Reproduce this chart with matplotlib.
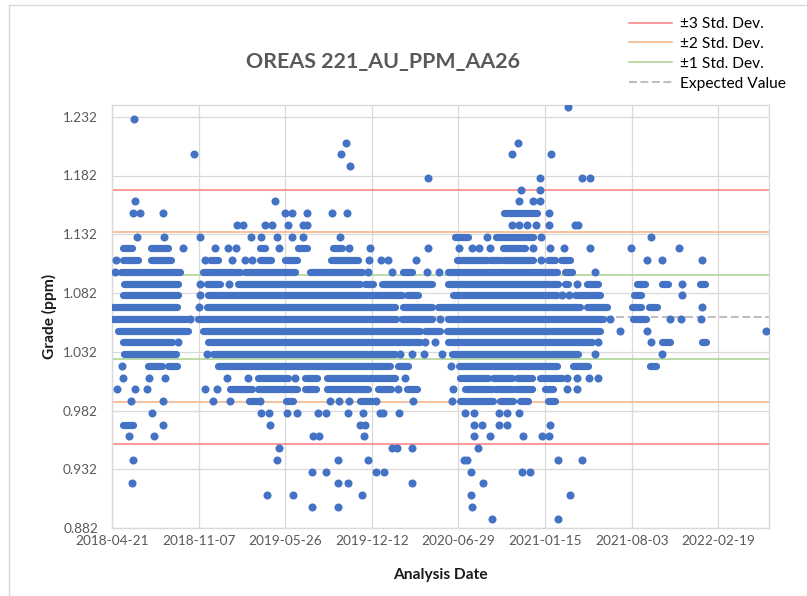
import matplotlib
matplotlib.use("Agg")
import matplotlib.pyplot as plt
import matplotlib.dates as mdates
from matplotlib.lines import Line2D
import numpy as np
import pandas as pd

plt.rcParams['font.family'] = ['Lato', 'DejaVu Sans']

chart_title = 'OREAS 221_AU_PPM_AA26'
x_title = 'Analysis Date'
y_title = 'Grade (ppm)'

expected_value = 1.0615
std_dev = 0.036

first_tick = '2018-04-21'
last_day = '2022-06-16'
tick_step_days = 200
y_ticks = [0.882, 0.932, 0.982, 1.032, 1.082, 1.132, 1.182, 1.232]
y_top = 1.242

# stretches where the samples sit so close that the dots merge: (grade, first, last)
dense_runs = [
    (1.15, '2020-10-12', '2020-12-27'),
    (1.13, '2020-06-21', '2020-07-21'), (1.13, '2020-09-24', '2020-12-18'),
    (1.12, '2018-05-16', '2018-06-06'), (1.12, '2018-07-20', '2018-08-28'),
    (1.12, '2019-03-29', '2019-04-09'), (1.12, '2019-06-24', '2019-07-15'),
    (1.12, '2019-09-13', '2019-10-04'), (1.12, '2020-10-10', '2020-11-30'),
    (1.11, '2018-05-16', '2018-06-20'), (1.11, '2018-07-20', '2018-09-04'),
    (1.11, '2018-12-03', '2018-12-22'), (1.11, '2019-03-29', '2019-04-23'),
    (1.11, '2019-05-25', '2019-06-22'), (1.11, '2019-09-09', '2019-11-10'),
    (1.11, '2020-06-26', '2020-09-03'), (1.11, '2020-09-10', '2020-10-03'),
    (1.11, '2020-10-10', '2020-12-18'), (1.11, '2021-01-22', '2021-02-07'),
    (1.11, '2021-02-21', '2021-03-13'),
    (1.10, '2018-05-12', '2018-09-25'), (1.10, '2018-11-17', '2019-02-10'),
    (1.10, '2019-02-22', '2019-06-17'), (1.10, '2019-07-22', '2019-11-19'),
    (1.10, '2020-02-22', '2020-03-13'), (1.10, '2020-06-04', '2021-02-11'),
    (1.10, '2021-03-01', '2021-03-18'),
    (1.09, '2018-05-18', '2018-09-20'), (1.09, '2018-11-26', '2018-12-26'),
    (1.09, '2019-02-05', '2019-11-14'), (1.09, '2019-11-26', '2019-12-14'),
    (1.09, '2020-01-04', '2020-04-28'), (1.09, '2020-06-04', '2021-02-14'),
    (1.09, '2021-03-01', '2021-03-09'), (1.09, '2021-04-22', '2021-05-17'),
    (1.09, '2021-08-15', '2021-09-02'), (1.09, '2021-10-12', '2021-10-26'),
    (1.09, '2022-01-08', '2022-01-19'),
    (1.08, '2018-05-16', '2018-09-20'), (1.08, '2018-11-28', '2020-02-20'),
    (1.08, '2020-03-02', '2020-03-27'), (1.08, '2020-06-16', '2021-02-11'),
    (1.08, '2021-03-25', '2021-05-22'), (1.08, '2021-08-08', '2021-08-24'),
    (1.07, '2018-04-23', '2018-09-18'), (1.07, '2018-11-26', '2020-02-03'),
    (1.07, '2020-02-22', '2020-04-28'), (1.07, '2020-05-13', '2021-04-05'),
    (1.07, '2021-04-22', '2021-06-07'), (1.07, '2021-08-04', '2021-08-24'),
    (1.07, '2021-09-12', '2021-09-30'),
    (1.06, '2018-04-23', '2018-10-09'), (1.06, '2018-11-06', '2020-02-06'),
    (1.06, '2020-02-20', '2020-04-28'), (1.06, '2020-06-04', '2021-05-29'),
    (1.06, '2021-08-06', '2021-09-05'),
    (1.05, '2018-05-05', '2018-10-13'), (1.05, '2018-11-17', '2020-04-01'),
    (1.05, '2020-04-13', '2020-05-17'), (1.05, '2020-06-02', '2021-05-22'),
    (1.04, '2018-05-16', '2018-09-06'), (1.04, '2018-11-28', '2020-04-01'),
    (1.04, '2020-06-04', '2021-05-03'), (1.04, '2021-10-12', '2021-10-30'),
    (1.04, '2022-01-12', '2022-01-21'),
    (1.03, '2018-05-18', '2018-09-15'), (1.03, '2018-12-10', '2020-02-03'),
    (1.03, '2020-06-14', '2021-04-01'),
    (1.02, '2018-07-13', '2018-08-14'), (1.02, '2018-08-28', '2018-09-18'),
    (1.02, '2018-12-22', '2020-01-23'), (1.02, '2020-02-10', '2020-03-04'),
    (1.02, '2020-06-30', '2021-02-11'), (1.02, '2021-03-20', '2021-04-24'),
    (1.02, '2021-09-14', '2021-09-28'),
    (1.01, '2019-03-24', '2019-06-01'), (1.01, '2019-07-11', '2019-08-07'),
    (1.01, '2019-08-30', '2020-02-03'), (1.01, '2020-07-02', '2020-09-05'),
    (1.01, '2020-09-17', '2020-10-30'), (1.01, '2020-11-11', '2020-12-15'),
    (1.01, '2021-01-03', '2021-02-23'),
    (1.00, '2019-01-18', '2019-03-10'), (1.00, '2019-03-24', '2019-06-22'),
    (1.00, '2019-07-11', '2019-08-05'), (1.00, '2019-08-30', '2019-12-03'),
    (1.00, '2019-12-26', '2020-01-25'), (1.00, '2020-03-02', '2020-03-25'),
    (1.00, '2020-07-14', '2020-09-14'), (1.00, '2020-09-21', '2020-10-30'),
    (1.00, '2020-11-07', '2020-12-15'), (1.00, '2021-01-15', '2021-02-02'),
    (0.99, '2019-03-03', '2019-03-22'), (0.99, '2019-05-28', '2019-06-13'),
    (0.99, '2019-11-14', '2019-12-12'), (0.99, '2020-07-02', '2020-09-17'),
    (0.99, '2020-10-03', '2020-11-02'), (0.99, '2020-11-18', '2020-12-06'),
    (0.99, '2021-01-22', '2021-02-07'),
    (0.97, '2018-05-16', '2018-06-08'),
]

# isolated samples: grade -> analysis dates
single_points = {
    1.24: ['2021-03-08'],
    1.23: ['2018-06-11'],
    1.21: ['2019-10-13', '2020-11-14'],
    1.20: ['2018-10-27', '2019-10-01', '2020-10-31', '2021-01-28'],
    1.19: ['2019-10-22'],
    1.18: ['2020-04-20', '2021-01-04', '2021-04-10', '2021-04-29'],
    1.17: ['2020-11-20', '2021-01-03'],
    1.16: ['2018-06-13', '2019-05-02', '2020-11-16', '2020-12-18', '2021-01-03'],
    1.15: ['2018-06-08', '2018-06-24', '2018-08-17', '2019-05-25', '2019-06-11',
           '2019-07-15', '2019-09-11', '2019-10-15', '2021-01-24'],
    1.14: ['2019-02-03', '2019-02-17', '2019-04-09', '2019-04-25', '2019-06-01',
           '2019-07-06', '2019-07-15', '2020-10-30', '2020-11-16', '2020-12-04',
           '2020-12-25', '2021-01-24', '2021-03-25', '2021-04-01'],
    1.13: ['2018-06-18', '2018-08-19', '2018-11-10', '2019-03-08', '2019-03-31',
           '2019-05-07', '2019-06-11', '2019-07-06', '2019-09-29', '2020-09-03',
           '2021-01-06', '2021-09-16'],
    1.12: ['2018-10-02', '2018-12-15', '2019-01-14', '2019-02-01', '2019-05-12',
           '2019-10-20', '2019-12-08', '2020-04-20', '2020-06-30', '2020-07-30',
           '2020-08-15', '2020-09-10', '2020-12-18', '2021-01-26', '2021-02-27',
           '2021-04-29', '2021-08-01', '2021-11-20'],
    1.11: ['2018-04-30', '2018-11-21', '2019-01-23', '2019-02-22', '2019-03-10',
           '2019-12-05', '2020-01-02', '2020-01-18', '2020-03-23', '2021-01-06',
           '2021-09-07', '2021-10-12', '2022-01-12'],
    1.10: ['2018-04-28', '2019-12-03', '2020-01-27', '2020-04-17', '2020-05-15',
           '2021-05-10'],
    1.09: ['2018-11-10', '2019-01-16', '2021-03-29', '2021-11-27'],
    1.08: ['2018-11-10', '2021-02-23', '2021-03-11', '2021-11-27'],
    1.07: ['2018-11-08', '2022-01-12'],
    1.06: ['2018-10-18', '2020-05-17', '2021-06-14', '2021-10-30', '2021-11-24',
           '2022-01-10'],
    1.05: ['2021-07-07', '2021-09-07', '2022-06-09'],
    1.04: ['2018-09-20', '2020-04-13', '2020-05-06', '2021-05-17', '2021-09-16'],
    1.03: ['2018-11-26', '2020-02-15', '2020-03-13', '2020-04-10', '2020-05-22',
           '2021-05-10', '2021-10-12'],
    1.02: ['2018-05-14', '2020-06-12'],
    1.01: ['2018-05-16', '2018-07-15', '2018-08-21', '2019-01-11', '2019-03-01',
           '2019-06-17', '2020-02-26', '2021-03-06', '2021-03-29', '2021-04-26',
           '2021-05-17'],
    1.00: ['2018-05-03', '2018-06-13', '2018-07-11', '2018-11-21', '2018-12-19',
           '2020-02-10', '2020-06-16', '2021-03-06', '2021-03-29'],
    0.99: ['2018-06-04', '2018-08-17', '2018-12-10', '2019-01-18', '2019-03-29',
           '2019-09-06', '2019-09-27', '2019-10-20', '2019-12-21', '2020-03-16',
           '2020-06-14'],
    0.98: ['2018-07-22', '2019-03-31', '2019-04-18', '2019-05-30', '2019-06-22',
           '2019-08-09', '2019-08-28', '2019-10-18', '2019-11-21', '2019-12-30',
           '2020-01-07', '2020-02-13', '2020-07-14', '2020-08-04', '2020-09-30',
           '2020-10-19', '2020-11-16'],
    0.97: ['2018-08-17', '2019-04-20', '2019-11-14', '2019-11-26', '2020-08-04',
           '2020-08-22', '2020-09-30', '2020-10-19', '2021-01-26'],
    0.96: ['2018-05-30', '2018-07-27', '2019-07-29', '2019-08-12', '2019-11-23',
           '2020-08-04', '2020-09-10', '2020-11-25', '2021-01-08', '2021-01-24'],
    0.95: ['2019-05-12', '2020-01-27', '2020-02-08', '2020-03-13', '2020-08-13'],
    0.94: ['2018-06-08', '2019-05-07', '2019-09-24', '2019-12-03', '2020-07-11',
           '2020-07-18', '2021-02-14', '2021-04-10'],
    0.93: ['2019-07-26', '2019-08-28', '2019-12-21', '2020-01-09', '2020-07-27',
           '2020-11-22', '2020-12-11'],
    0.92: ['2018-06-06', '2019-09-24', '2019-10-18', '2020-03-13', '2020-08-24'],
    0.91: ['2019-04-13', '2019-06-13', '2019-11-19', '2020-07-27', '2021-03-13'],
    0.90: ['2019-07-26', '2019-09-24', '2020-07-30'],
    0.89: ['2020-09-14', '2021-02-14'],
}

sd_lines = [
    ('±3 Std. Dev.', 3, '#FF7C80'),
    ('±2 Std. Dev.', 2, '#F4B183'),
    ('±1 Std. Dev.', 1, '#A9D18E'),
]

dot_color = '#4472C4'
grid_color = '#D9D9D9'
text_grey = '#595959'


def to_num(dates):
    return mdates.date2num(pd.to_datetime(dates).to_pydatetime())


fig = plt.figure(figsize=(8.07, 5.96), dpi=100)
ax = fig.add_axes([112 / 807, 1 - 528 / 596, 657 / 807, 423 / 596])

# reference lines
for label, k, color in sd_lines:
    for sign in (1, -1):
        ax.axhline(expected_value + sign * k * std_dev, color=color, lw=1.1, zorder=2)
ax.axhline(expected_value, color='#BFBFBF', lw=1.5, dashes=(3.8, 1.7), zorder=2)

# samples
dot_pt = 5.8
run_y = [r[0] for r in dense_runs]
run_a = to_num([r[1] for r in dense_runs])
run_b = to_num([r[2] for r in dense_runs])
lc = ax.hlines(run_y, run_a, run_b, colors=dot_color, linewidth=5.2, zorder=3)
lc.set_capstyle('round')

sx, sy = [], []
for grade, dates in single_points.items():
    sx.extend(to_num(dates))
    sy.extend([grade] * len(dates))
ax.scatter(sx, sy, s=dot_pt ** 2, color=dot_color, linewidths=0, zorder=3)

# axes
x_start = pd.Timestamp(first_tick)
x_end = pd.Timestamp(last_day)
ticks = pd.date_range(x_start, x_end, freq=f'{tick_step_days}D')
ax.set_xlim(to_num([x_start])[0], to_num([x_end])[0])
ax.set_xticks(to_num(ticks))
ax.set_xticklabels([t.strftime('%Y-%m-%d') for t in ticks])
ax.set_ylim(y_ticks[0], y_top)
ax.set_yticks(y_ticks)
ax.set_yticklabels([f'{v:.3f}' for v in y_ticks])

ax.grid(True, color=grid_color, lw=0.9, zorder=0)
ax.set_axisbelow(True)
for s in ax.spines.values():
    s.set_color(grid_color)
    s.set_linewidth(1.0)
ax.tick_params(length=0, labelsize=9.8, labelcolor=text_grey)
ax.tick_params(axis='y', pad=10)
ax.tick_params(axis='x', pad=5)

ax.set_xlabel(x_title, fontsize=11.2, fontweight='bold', color='#1a1a1a')
ax.set_ylabel(y_title, fontsize=11.2, fontweight='bold', color='#1a1a1a')
ax.xaxis.set_label_coords(0.5, -0.095)
ax.yaxis.set_label_coords(-0.084, 0.5)

fig.text(383 / 807, 1 - 62 / 596, chart_title, ha='center', va='center',
         fontsize=15.4, fontweight='bold', color=text_grey)

handles = [Line2D([], [], color=c, lw=1.1) for _, _, c in sd_lines]
handles.append(Line2D([], [], color='#BFBFBF', lw=1.5, dashes=(3.8, 1.7)))
labels = [l for l, _, _ in sd_lines] + ['Expected Value']
fig.legend(handles, labels, loc='upper left', bbox_to_anchor=(629 / 807, 1 - 17 / 596),
           frameon=False, fontsize=11.2, handlelength=2.75, handletextpad=0.5,
           labelspacing=0.38, borderpad=0, borderaxespad=0)

# chart area border
fig.add_artist(Line2D([9 / 807, 9 / 807], [0, 1 - 5 / 596], color=grid_color, lw=1.0))
fig.add_artist(Line2D([9 / 807, 1], [1 - 5 / 596, 1 - 5 / 596], color=grid_color, lw=1.0))

fig.savefig('out.png', dpi=100)
